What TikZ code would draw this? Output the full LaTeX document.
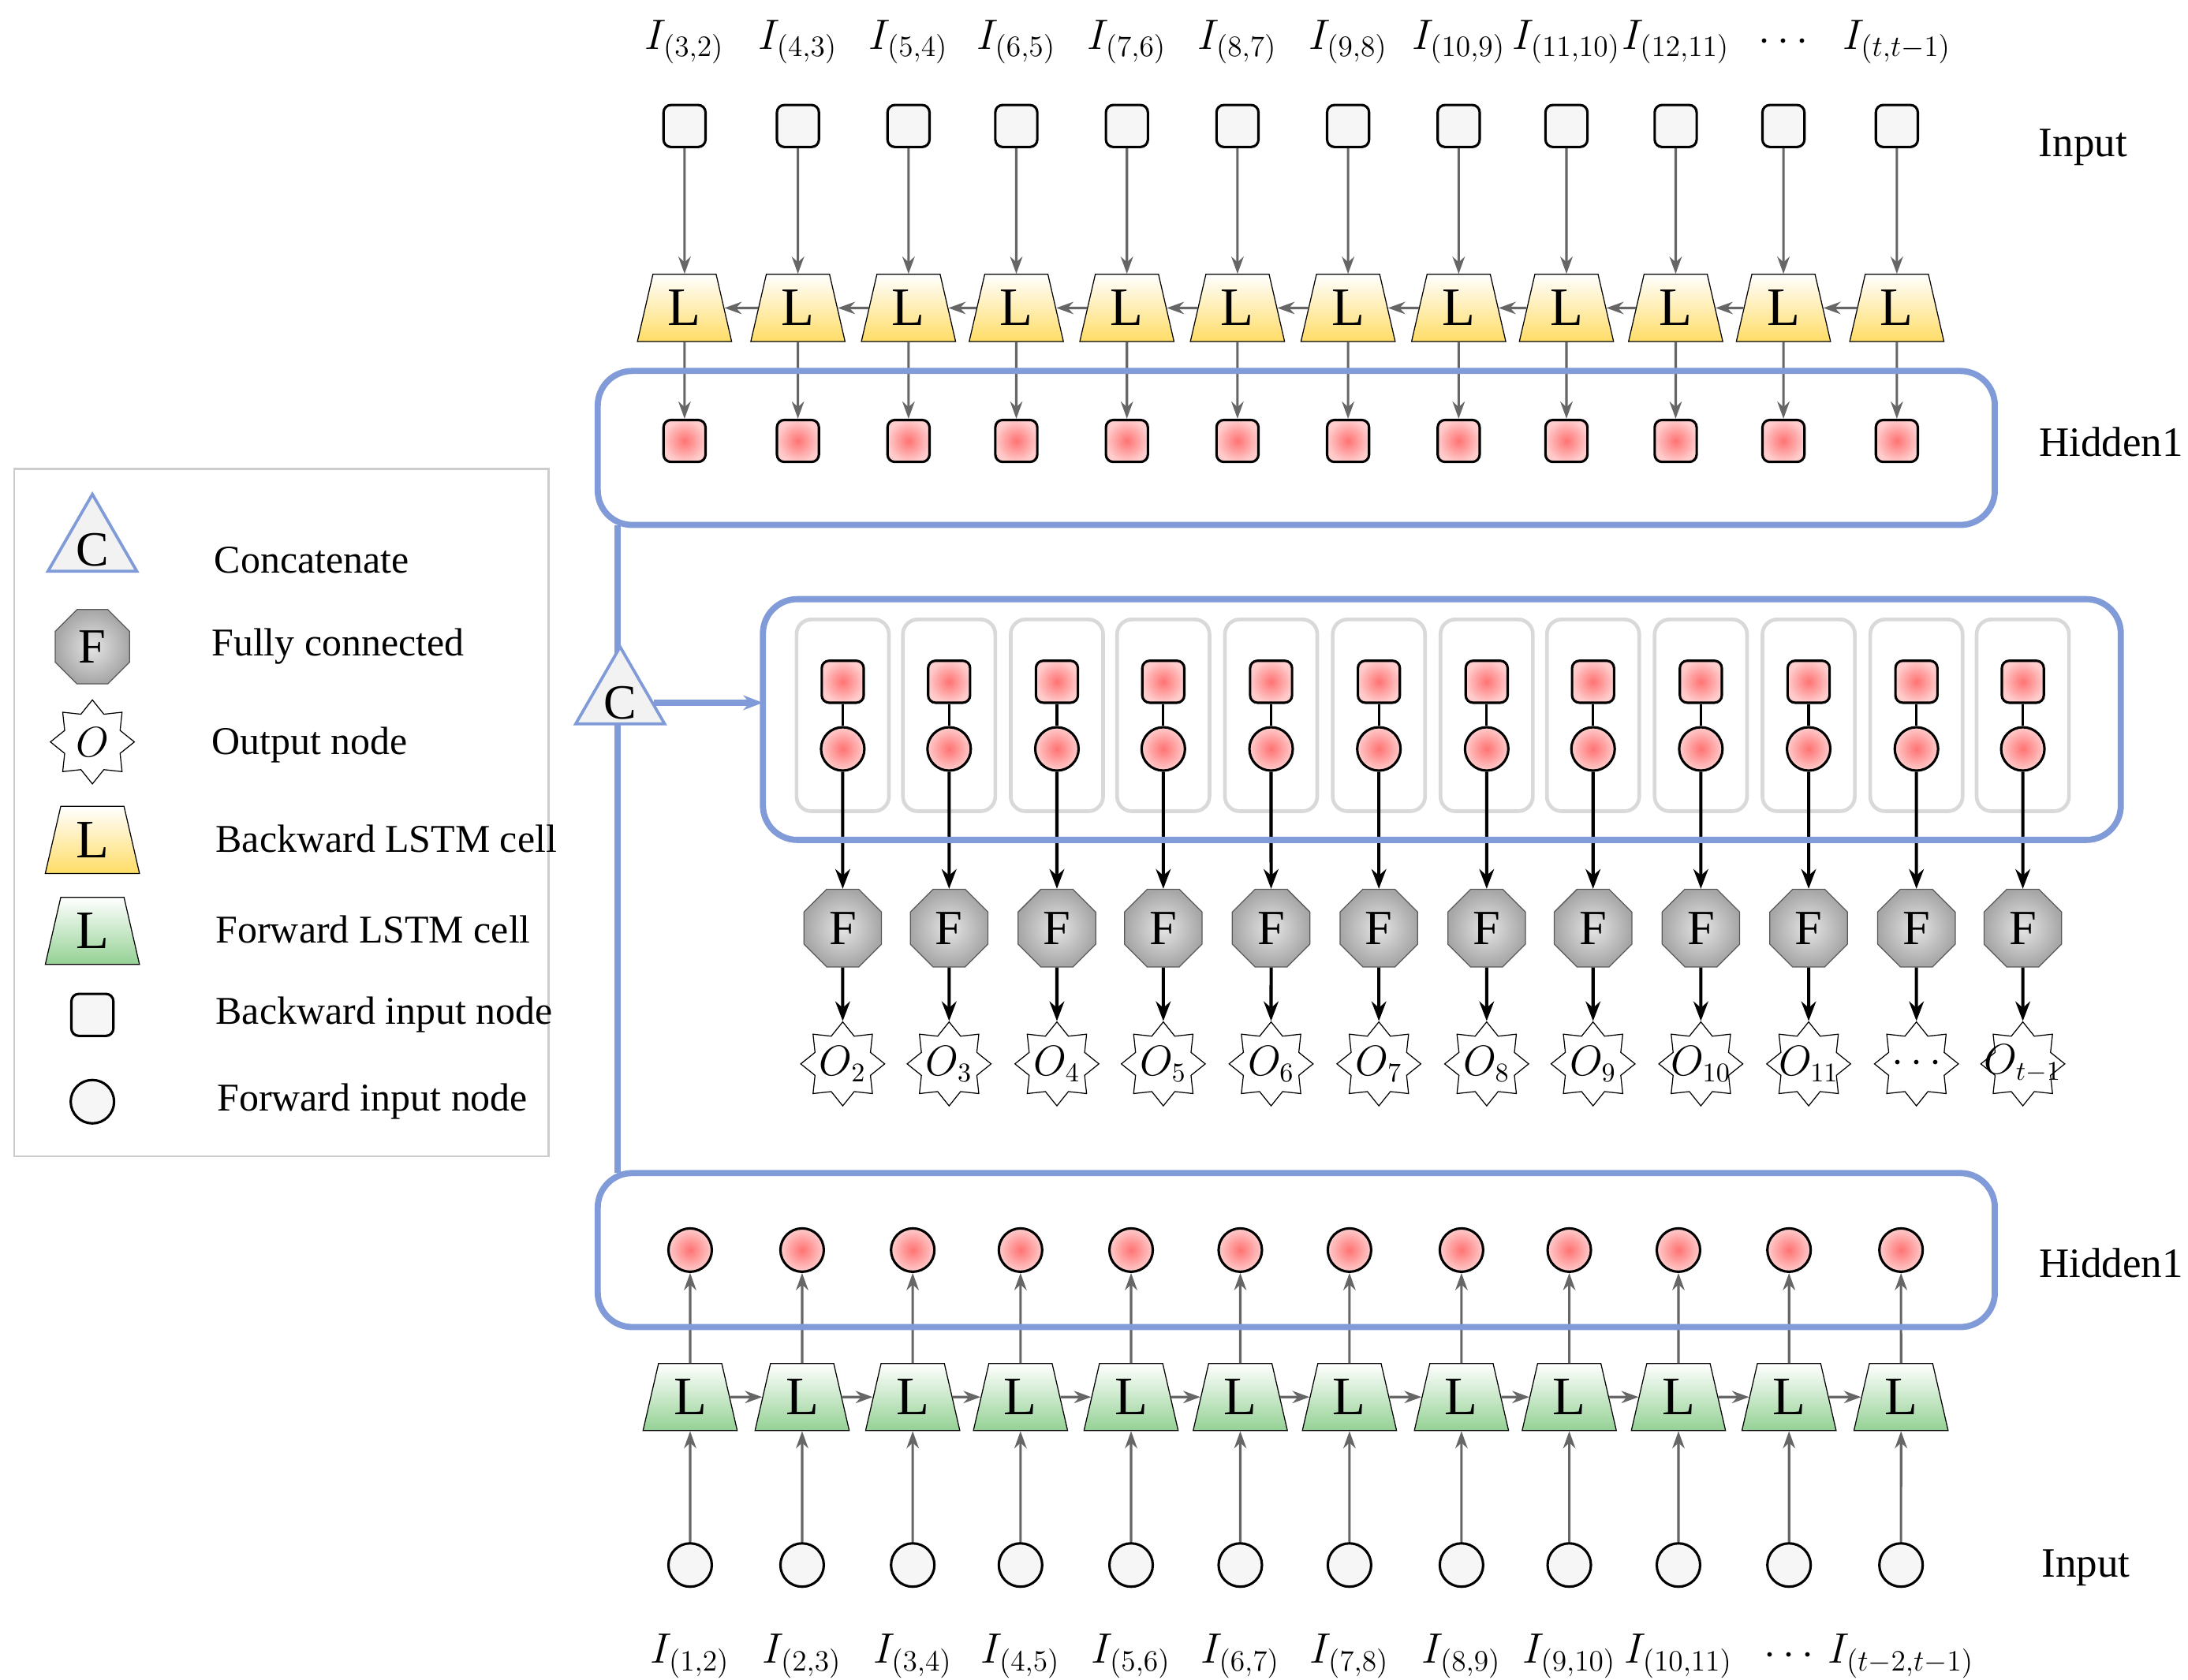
\documentclass[tikz,border=0pt]{standalone}
\usepackage{fontspec}
\setmainfont{Liberation Serif}
\usetikzlibrary{shapes.geometric,shapes.misc,arrows.meta,positioning}
\definecolor{boxblue}{RGB}{128,155,215}
\tikzset{
  arr/.style={-{Stealth[length=7pt,width=5pt]}, gray!80!black, line width=1pt},
  darr/.style={-{Stealth[length=8pt,width=6pt]}, black, line width=1.3pt},
  box/.style={draw=boxblue, line width=2.5pt, rounded corners=14pt},
  insq/.style={draw, rectangle, rounded corners=3pt, minimum size=0.6cm, fill=yellow!5!gray!8, line width=1pt},
  incirc/.style={draw, circle, minimum size=0.62cm, fill=yellow!5!gray!8, line width=1pt},
  hsq/.style={draw, rectangle, rounded corners=3pt, minimum size=0.6cm, inner color=red!55, outer color=red!20, line width=1pt},
  hcirc/.style={draw, circle, minimum size=0.62cm, inner color=red!55, outer color=red!20, line width=1pt},
  bcell/.style={draw, trapezium, trapezium angle=77, minimum height=0.96cm, minimum width=0.75cm, inner sep=1pt,
    top color=white, bottom color=yellow!55!orange!60, font=\fontsize{22}{24}\selectfont},
  fcell/.style={bcell, top color=white, bottom color=green!40!gray!60},
  fc/.style={draw=gray!70!black, regular polygon, regular polygon sides=8, minimum size=1.2cm, inner sep=0pt,
    inner color=gray!20, outer color=gray!70, font=\fontsize{20}{22}\selectfont},
  outn/.style={draw, star, star points=8, star point ratio=1.4, minimum size=1.2cm, inner sep=0pt},
  outlab/.style={font=\fontsize{16}{18}\selectfont, inner sep=0pt},
  cat/.style={draw=boxblue, isosceles triangle, shape border rotate=90, isosceles triangle apex angle=60,
    minimum height=1.1cm, inner sep=1pt, fill=gray!10, line width=1.2pt, font=\fontsize{20}{22}\selectfont},
  cellbox/.style={draw=gray!30, line width=1.5pt, rounded corners=6pt, minimum width=1.32cm, minimum height=2.74cm},
  lab/.style={font=\fontsize{17}{20}\selectfont},
  leg/.style={anchor=west, font=\fontsize{16}{19}\selectfont}
}
\begin{document}
\begin{tikzpicture}[x=0.02cm, y=-0.02cm]
\useasboundingbox (0,0) rectangle (1563,1200);
% backward branch
\foreach \x/\t [count=\i] in {489/{$I_{(3,2)}$},570/{$I_{(4,3)}$},649/{$I_{(5,4)}$},726/{$I_{(6,5)}$},805/{$I_{(7,6)}$},884/{$I_{(8,7)}$},963/{$I_{(9,8)}$},1042/{$I_{(10,9)}$},1119/{$I_{(11,10)}$},1197/{$I_{(12,11)}$},1274/{$\cdots$},1355/{$I_{(t,t-1)}$}}{
  \node[lab] (bt\i) at (\x,30) {\t};
  \node[insq] (bin\i) at (\x,90) {};
  \node[bcell] (bL\i) at (\x,220) {L};
  \node[hsq] (bh\i) at (\x,315) {};
  \draw[arr] (bin\i) -- (bL\i);
  \draw[arr] (bL\i) -- (bh\i);
}
\foreach \i [evaluate=\i as \j using int(\i+1)] in {1,...,11}
  \draw[arr] (bL\j) -- (bL\i);
\node[lab] (binlab) at (1488,105) {Input};
\node[lab] (bhlab) at (1508,316) {Hidden1};
\draw[box] (427,265) rectangle (1425,375);
% forward branch
\foreach \x/\t [count=\i] in {493/{$I_{(1,2)}$},573/{$I_{(2,3)}$},652/{$I_{(3,4)}$},729/{$I_{(4,5)}$},808/{$I_{(5,6)}$},886/{$I_{(6,7)}$},964/{$I_{(7,8)}$},1044/{$I_{(8,9)}$},1121/{$I_{(9,10)}$},1199/{$I_{(10,11)}$},1278/{$\cdots$},1358/{$I_{(t-2,t-1)}$}}{
  \node[lab] (ft\i) at (\x,1183) {\t};
  \node[incirc] (fin\i) at (\x,1118) {};
  \node[fcell] (fL\i) at (\x,998) {L};
  \node[hcirc] (fh\i) at (\x,893) {};
  \draw[arr] (fin\i) -- (fL\i);
  \draw[arr] (fL\i) -- (fh\i);
}
\foreach \i [evaluate=\i as \j using int(\i+1)] in {1,...,11}
  \draw[arr] (fL\i) -- (fL\j);
\node[lab] (finlab) at (1490,1120) {Input};
\node[lab] (fhlab) at (1508,902) {Hidden1};
\draw[box] (427,838) rectangle (1425,948);
% concatenation
\coordinate (vtop) at (441,375);
\coordinate (vbot) at (441,838);
\draw[draw=boxblue, line width=2.5pt] (vtop) -- (vbot);
\node[cat] (C) at (443,502) {C};
\coordinate (mleft) at (545,510);
\draw[draw=boxblue, line width=2.5pt, -{Stealth[length=8pt]}] (C.east) -- (C.east -| mleft);
% merged outputs
\foreach \x/\t [count=\i] in {602/{$O_2$},678/{$O_3$},755/{$O_4$},831/{$O_5$},908/{$O_6$},985/{$O_7$},1062/{$O_8$},1138/{$O_9$},1215/{$O_{10}$},1292/{$O_{11}$},1369/{$\cdots$},1445/{$O_{t-1}$}}{
  \node[cellbox] (mb\i) at (\x,511) {};
  \node[hsq] (ms\i) at (\x,487) {};
  \node[hcirc] (mc\i) at (\x,535) {};
  \draw[line width=1pt] (ms\i) -- (mc\i);
  \node[fc] (F\i) at (\x,663) {F};
  \node[outn] (O\i) at (\x,760) {};
  \node[outlab] (Ot\i) at (\x,760) {\t};
  \draw[darr] (mc\i) -- (F\i);
  \draw[darr] (F\i) -- (O\i);
}
\draw[box] (545,428) rectangle (1515,600);
% legend
\draw[gray!40, line width=0.8pt] (10,335) rectangle (392,826);
\node[cat] (lC) at (66,393) {C};
\node[leg] (tC) at (147,400) {Concatenate};
\node[fc, minimum size=1.15cm] (lF) at (66,462) {F};
\node[leg] (tF) at (145,462) {Fully connected};
\node[outn] (lO) at (66,530) {};
\node[outlab] (lOt) at (66,530) {$O$};
\node[leg] (tO) at (145,532) {Output node};
\node[bcell] (lbL) at (66,600) {L};
\node[leg] (tbL) at (148,599) {Backward LSTM cell};
\node[fcell] (lfL) at (66,665) {L};
\node[leg] (tfL) at (148,664) {Forward LSTM cell};
\node[insq] (lsq) at (66,725) {};
\node[leg] (tsq) at (148,725) {Backward input node};
\node[incirc] (lci) at (66,787) {};
\node[leg] (tci) at (149,787) {Forward input node};
\end{tikzpicture}
\end{document}
